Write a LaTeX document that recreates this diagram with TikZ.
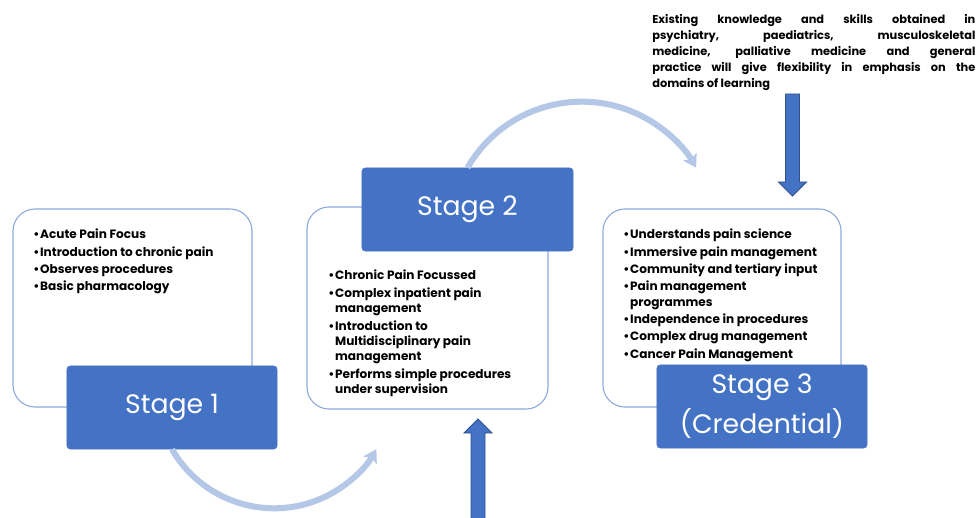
\documentclass[tikz,border=0pt]{standalone}
\usepackage{fontspec}
\setmainfont{Poppins}
\usetikzlibrary{arrows.meta}
\definecolor{stageblue}{HTML}{4472C4}
\definecolor{boxedge}{HTML}{8FAADC}
\definecolor{arcblue}{HTML}{B4C7E7}
\definecolor{arrowedge}{HTML}{2F528F}
\newcommand{\bul}{\textbullet\hspace{0.6pt}}
\newcommand{\hang}{\hphantom{\textbullet}\hspace{0.6pt}}
\tikzset{
  infobox/.style={draw=boxedge, fill=white, line width=0.8pt, rounded corners=0.55cm},
  stagebox/.style={fill=stageblue, draw=stageblue, rounded corners=0.08cm, text=white,
    align=center, font=\fontsize{19}{28.5}\selectfont},
  bullets/.style={anchor=north west, inner sep=0pt, align=left,
    font=\bfseries\fontsize{8.6}{11}\selectfont},
  cyclearrow/.style={draw=arcblue, line width=4.3pt, -{Stealth[length=9pt, width=11pt, inset=2pt]}},
  blockarrow/.style={fill=stageblue, draw=arrowedge, line width=0.6pt}
}
\begin{document}
\begin{tikzpicture}[x=0.025cm, y=-0.025cm]
  \useasboundingbox (0,0) rectangle (979,518);
  % Outline boxes
  \node[infobox, minimum width=5.975cm, minimum height=4.95cm] (s1box) at (132.5,308) {};
  \node[infobox, minimum width=6.025cm, minimum height=5.05cm] (s2box) at (427.5,308) {};
  \node[infobox, minimum width=5.95cm, minimum height=4.95cm] (s3box) at (722,308) {};
  % Bullet lists
  \node[bullets] (s1list) at (33,229) {\bul Acute Pain Focus\\[1.3pt]
    \bul Introduction to chronic pain\\[1.3pt]
    \bul Observes procedures\\[1.3pt]
    \bul Basic pharmacology};
  \node[bullets] (s2list) at (328,270) {\bul Chronic Pain Focussed\\[1.3pt]
    \bul Complex inpatient pain\\ \hang management\\[1.3pt]
    \bul Introduction to\\ \hang Multidisciplinary pain\\ \hang management\\[1.3pt]
    \bul Performs simple procedures\\ \hang under supervision};
  \node[bullets] (s3list) at (623,229) {\bul Understands pain science\\[1.3pt]
    \bul Immersive pain management\\[1.3pt]
    \bul Community and tertiary input\\[1.3pt]
    \bul Pain management\\ \hang programmes\\[1.3pt]
    \bul Independence in procedures\\[1.3pt]
    \bul Complex drug management\\[1.3pt]
    \bul Cancer Pain Management};
  % Stage labels
  \node[stagebox, minimum width=5.25cm, minimum height=2.075cm] (s1) at (172,407.5) {Stage 1};
  \node[stagebox, minimum width=5.275cm, minimum height=2.075cm] (s2) at (467.5,209.5) {Stage 2};
  \node[stagebox, minimum width=5.25cm, minimum height=2.075cm] (s3) at (762,406.5) {Stage 3\\(Credential)};
  % Note on prior training
  \node[anchor=north west, inner sep=0pt, text width=8.075cm, align=justify,
    font=\bfseries\fontsize{8.1}{11.4}\selectfont] (note) at (652,14)
    {Existing knowledge and skills obtained in\linebreak psychiatry, paediatrics, musculoskeletal\linebreak
     medicine, palliative medicine and general\linebreak practice will give flexibility in emphasis on the\linebreak
     domains of learning};
  % Progression arcs
  \draw[cyclearrow] (s1.south) arc[start angle=150, end angle=30, radius=118];
  \draw[cyclearrow] (s2.north) arc[start angle=210, end angle=330, radius=132];
  % Block arrows
  \filldraw[blockarrow] (785.5,94) -- (799.5,94) -- (799.5,182) -- (806.5,182) -- (792.5,196)
    -- (778.5,182) -- (785.5,182) -- cycle;
  \filldraw[blockarrow] (471,519) -- (471,433) -- (464,433) -- (478,419) -- (492,433)
    -- (485,433) -- (485,519) -- cycle;
\end{tikzpicture}
\end{document}
